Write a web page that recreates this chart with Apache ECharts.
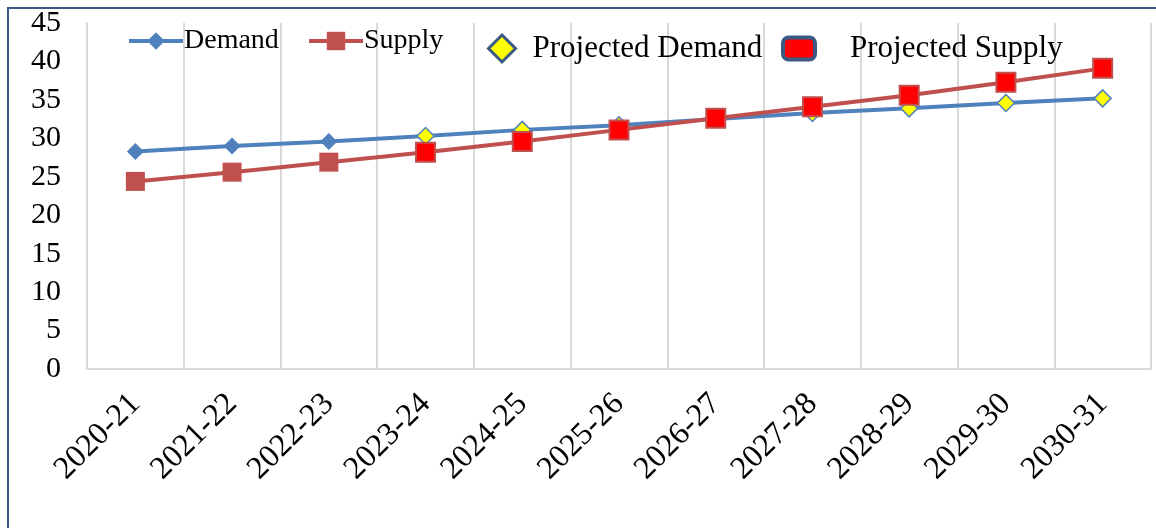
<!DOCTYPE html>
<html>
<head>
<meta charset="utf-8">
<script src="https://cdn.jsdelivr.net/npm/echarts@6/dist/echarts.min.js"></script>
<style>
  html, body { margin: 0; padding: 0; background: #fff; }
  #chart { width: 1156px; height: 528px; }
</style>
</head>
<body>
<div id="chart"></div>
<script>
  // values
  const years = ['2020-21', '2021-22', '2022-23', '2023-24', '2024-25', '2025-26',
    '2026-27', '2027-28', '2028-29', '2029-30', '2030-31']
  const demand = [28.3, 29.0, 29.6, 30.3, 31.1, 31.7, 32.5, 33.3, 33.9, 34.6, 35.2]
  const supply = [24.4, 25.6, 26.9, 28.2, 29.6, 31.1, 32.6, 34.1, 35.6, 37.3, 39.1]
  const firstProjected = 3   // 2023-24 onward is projected
  const yTicks = [0, 5, 10, 15, 20, 25, 30, 35, 40, 45]

  const projDemand = demand.map((v, i) => i >= firstProjected ? v : '-')
  const projSupply = supply.map((v, i) => i >= firstProjected ? v : '-')

  const serif = '"Liberation Serif", "Times New Roman", serif'
  const blue = '#4F81BD'
  const red = '#C0504D'
  const navy = '#3A5A85'

  let elem = echarts.init(document.getElementById('chart'))
  let option = {
    animation: false,
    textStyle: { fontFamily: serif },
    graphic: [
      {
        type: 'rect',
        shape: { x: 8, y: 8, width: 1160, height: 540 },
        style: { fill: 'none', stroke: navy, lineWidth: 2 },
        silent: true
      }
    ],
    legend: [
      {
        data: ['Demand'],
        left: 122, top: 22,
        itemWidth: 54, itemHeight: 22, itemGap: 4,
        lineStyle: { width: 4 },
        textStyle: { fontFamily: serif, fontSize: 28, color: '#000', padding: [0, 0, 0, -4] }
      },
      {
        data: ['Supply'],
        left: 302, top: 22,
        itemWidth: 54, itemHeight: 23,
        lineStyle: { width: 4 },
        textStyle: { fontFamily: serif, fontSize: 28, color: '#000', padding: [0, 0, 0, -4] }
      },
      {
        data: [{
          name: 'Projected Demand',
          icon: 'diamond',
          itemStyle: { color: '#FFFF00', borderColor: navy, borderWidth: 3 }
        }],
        left: 482, top: 28,
        itemWidth: 27, itemHeight: 27,
        textStyle: { fontFamily: serif, fontSize: 31, color: '#000', padding: [0, 0, 0, 12] }
      },
      {
        data: [{
          name: 'Projected Supply',
          icon: 'roundRect',
          itemStyle: { color: '#FF0000', borderColor: navy, borderWidth: 4 }
        }],
        left: 776, top: 28,
        itemWidth: 32, itemHeight: 22,
        textStyle: { fontFamily: serif, fontSize: 31, color: '#000', padding: [0, 0, 0, 30] }
      }
    ],
    grid: {
      left: 87,
      right: 5,
      top: 23,
      bottom: 159
    },
    xAxis: {
      type: 'category',
      data: years,
      boundaryGap: true,
      axisLine: { lineStyle: { color: '#D9D9D9', width: 2 } },
      axisTick: { show: false },
      splitLine: { show: true, lineStyle: { color: '#D9D9D9', width: 2 } },
      axisLabel: {
        rotate: 45,
        interval: 0,
        margin: 30,
        fontFamily: serif,
        fontSize: 32,
        color: '#000'
      }
    },
    yAxis: {
      type: 'value',
      min: yTicks[0],
      max: yTicks[yTicks.length - 1],
      interval: 5,
      axisLine: { show: true, lineStyle: { color: '#D9D9D9', width: 2 } },
      axisTick: { show: false },
      splitLine: { show: false },
      axisLabel: {
        margin: 26,
        fontFamily: serif,
        fontSize: 30,
        color: '#000',
        verticalAlign: 'middle',
        padding: [9, 0, 0, 0]
      }
    },
    series: [
      {
        name: 'Demand',
        type: 'line',
        data: demand,
        symbol: 'diamond',
        symbolSize: 17,
        lineStyle: { color: blue, width: 4 },
        itemStyle: { color: blue }
      },
      {
        name: 'Projected Demand',
        type: 'line',
        data: projDemand,
        symbol: 'diamond',
        symbolSize: 17,
        showAllSymbol: true,
        lineStyle: { opacity: 0 },
        itemStyle: { color: '#FFFF00', borderColor: blue, borderWidth: 1.5 }
      },
      {
        name: 'Supply',
        type: 'line',
        data: supply,
        symbol: 'rect',
        symbolSize: 19,
        lineStyle: { color: red, width: 4 },
        itemStyle: { color: red }
      },
      {
        name: 'Projected Supply',
        type: 'line',
        data: projSupply,
        symbol: 'rect',
        symbolSize: 19,
        showAllSymbol: true,
        lineStyle: { opacity: 0 },
        itemStyle: { color: '#FF0000', borderColor: red, borderWidth: 2 }
      }
    ]
  }
  elem.setOption(option)
</script>
</body>
</html>
